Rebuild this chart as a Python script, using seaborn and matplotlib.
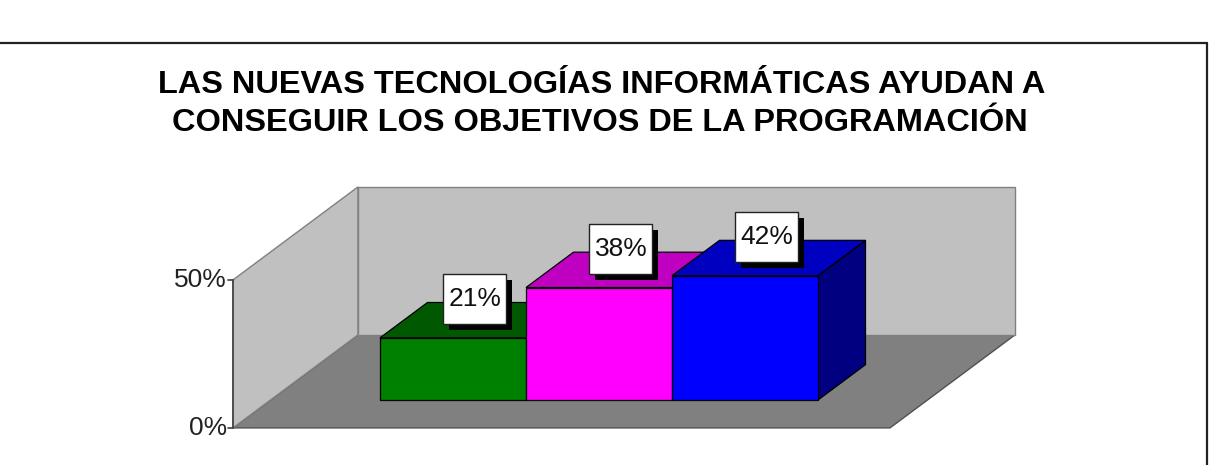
import matplotlib
matplotlib.use("Agg")
import matplotlib.pyplot as plt
from matplotlib.patches import Polygon, Rectangle
from matplotlib.lines import Line2D
import pandas as pd
import seaborn as sns

# ---------------- data ----------------
title_lines = ["LAS NUEVAS TECNOLOGÍAS INFORMÁTICAS AYUDAN A",
               "CONSEGUIR LOS OBJETIVOS DE LA PROGRAMACIÓN"]
categories = ["Serie 1", "Serie 2", "Serie 3"]
values = [21, 38, 42]
value_labels = ["21%", "38%", "42%"]
y_ticks = [0, 50]
y_tick_labels = ["0%", "50%"]

# ---------------- style ----------------
front_colors = ["#008000", "#ff00ff", "#0000ff"]
top_colors = ["#005800", "#c000c0", "#0000c0"]
side_colors = ["#004000", "#800080", "#000080"]

sns.set_theme(style="white")
plt.rcParams['font.family'] = ['Liberation Sans', 'DejaVu Sans']

W, H = 1215, 465
fig = plt.figure(figsize=(W / 100, H / 100), dpi=100)
fig.patch.set_facecolor("white")

# axes = plane of the bar front faces
AX_L, AX_R, AX_B, AX_T = 270.5, 927.5, 400, 252   # pixel geometry (top-down y)
ax = fig.add_axes([AX_L / W, (H - AX_B) / H, (AX_R - AX_L) / W, (AX_B - AX_T) / H])

df = pd.DataFrame({"cat": categories, "val": values})
sns.barplot(data=df, x="cat", y="val", hue="cat", palette=front_colors,
            width=1.0, saturation=1, legend=False, ax=ax,
            edgecolor="black", linewidth=0.9)
bars = sorted([p for p in ax.patches if isinstance(p, Rectangle)], key=lambda p: p.get_x())

XL, XR = -1.25, 3.25
YMAX = 50
ax.set_xlim(XL, XR)
ax.set_ylim(0, YMAX)
ax.axis("off")

# depth vector (pixels) converted to data units
dpx_x = (XR - XL) / (AX_R - AX_L)
dpx_y = YMAX / (AX_B - AX_T)
DX, DY = 125 * dpx_x, 93 * dpx_y
F0, F1 = -0.3, 0.7      # front / back of the box
BD = 0.38               # bar depth


def P(x, y, f):
    return (x + f * DX, y + f * DY)


def poly(pts, fc, ec, z, lw=1.0):
    ax.add_patch(Polygon(pts, closed=True, fc=fc, ec=ec, lw=lw,
                         zorder=z, clip_on=False))


# walls
poly([P(XL, 0, F0), P(XR, 0, F0), P(XR, 0, F1), P(XL, 0, F1)], "#808080", "#505050", 1)
poly([P(XL, 0, F0), P(XL, YMAX, F0), P(XL, YMAX, F1), P(XL, 0, F1)], "#c0c0c0", "#808080", 1)
poly([P(XL, 0, F1), P(XR, 0, F1), P(XR, YMAX, F1), P(XL, YMAX, F1)], "#c0c0c0", "#808080", 1)
ax.add_line(Line2D(*zip(P(XL, 0, F0), P(XL, YMAX, F0)), color="#404040", lw=1.2,
                   zorder=2, clip_on=False))

# y ticks on the front-left edge
for yt, lab in zip(y_ticks, y_tick_labels):
    x0, y0 = P(XL, yt, F0)
    ax.add_line(Line2D([x0 - 5 * dpx_x, x0], [y0, y0], color="#404040", lw=1.2,
                       zorder=2, clip_on=False))
    ax.text(x0 - 6 * dpx_x, y0, lab, ha="right", va="center", fontsize=19,
            color="#222222", clip_on=False)

# 3D bars built on the seaborn bars
BOX_W, BOX_H = 63, 50          # label box size in pixels
for i, (b, lab) in enumerate(zip(bars, value_labels)):
    x0, w, h = b.get_x(), b.get_width(), b.get_height()
    x1 = x0 + w
    z = 10 + 3 * i
    poly([P(x1, 0, 0), P(x1, 0, BD), P(x1, h, BD), P(x1, h, 0)], side_colors[i], "black", z, 0.9)
    poly([P(x0, h, 0), P(x1, h, 0), P(x1, h, BD), P(x0, h, BD)], top_colors[i], "black", z + 1, 0.9)
    b.set_zorder(z + 2)
    b.set_clip_on(False)
    # value label with drop shadow
    tx, ty = P(x0 + w / 2, h, 0.2)
    cx, cy = tx - 4 * dpx_x, ty + 20 * dpx_y
    ax.add_patch(Rectangle((cx - BOX_W / 2 * dpx_x + 6 * dpx_x, cy - BOX_H / 2 * dpx_y - 6 * dpx_y),
                           BOX_W * dpx_x, BOX_H * dpx_y, fc="black", ec="black",
                           lw=0, zorder=40, clip_on=False))
    ax.add_patch(Rectangle((cx - BOX_W / 2 * dpx_x, cy - BOX_H / 2 * dpx_y),
                           BOX_W * dpx_x, BOX_H * dpx_y, fc="white", ec="#222222",
                           lw=1, zorder=41, clip_on=False))
    ax.text(cx + 1 * dpx_x, cy, lab, ha="center", va="center", fontsize=19,
            color="#111111", zorder=42, clip_on=False)

# title
fig.text(602 / W, 1 - 93 / H, title_lines[0], ha="center", va="baseline",
         fontsize=23.4, fontweight="bold", color="black")
fig.text(600 / W, 1 - 131 / H, title_lines[1], ha="center", va="baseline",
         fontsize=23.4, fontweight="bold", color="black")

# chart frame
fig.add_artist(Line2D([0, 1207 / W], [1 - 43 / H, 1 - 43 / H], color="#222222", lw=1.6,
                      transform=fig.transFigure))
fig.add_artist(Line2D([1207 / W, 1207 / W], [1 - 43 / H, 0], color="#222222", lw=1.6,
                      transform=fig.transFigure))

fig.savefig("out.png", dpi=100, facecolor="white")
